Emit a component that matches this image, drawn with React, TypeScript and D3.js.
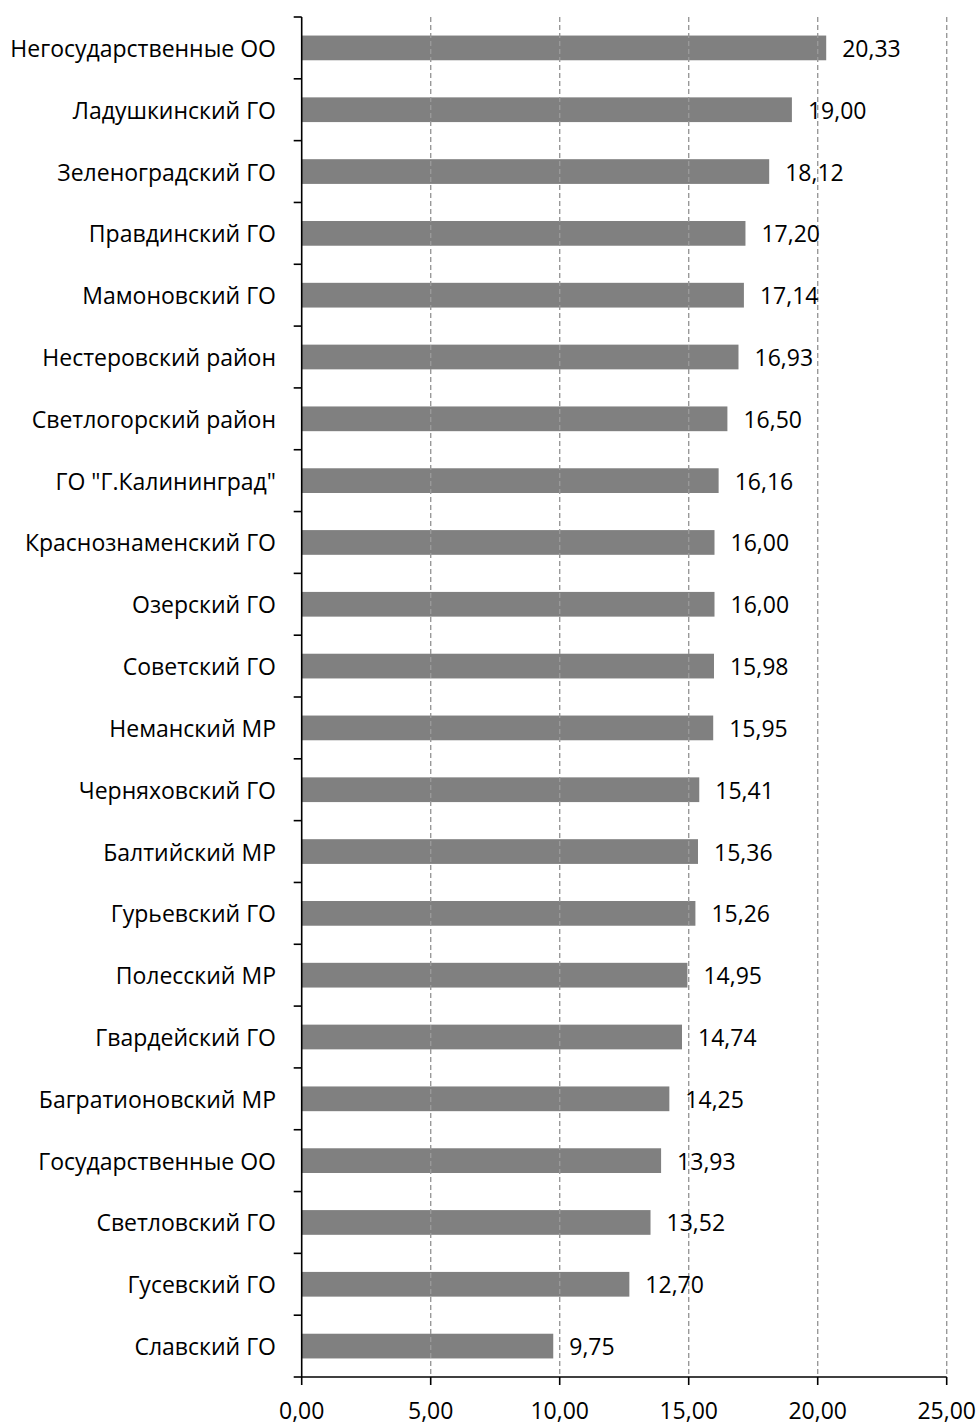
import React from "react";
import * as d3 from "d3";

const categories = [
  "Негосударственные ОО",
  "Ладушкинский ГО",
  "Зеленоградский ГО",
  "Правдинский ГО",
  "Мамоновский ГО",
  "Нестеровский район",
  "Светлогорский район",
  "ГО \"Г.Калининград\"",
  "Краснознаменский ГО",
  "Озерский ГО",
  "Советский ГО",
  "Неманский МР",
  "Черняховский ГО",
  "Балтийский МР",
  "Гурьевский ГО",
  "Полесский МР",
  "Гвардейский ГО",
  "Багратионовский МР",
  "Государственные ОО",
  "Светловский ГО",
  "Гусевский ГО",
  "Славский ГО",
];

const values = [
  20.33, 19.0, 18.12, 17.2, 17.14, 16.93, 16.5, 16.16, 16.0, 16.0, 15.98,
  15.95, 15.41, 15.36, 15.26, 14.95, 14.74, 14.25, 13.93, 13.52, 12.7, 9.75,
];

const xTicks = [0, 5, 10, 15, 20, 25];

const W = 979;
const H = 1426;
const left = 301.7;
const right = 946.7;
const top = 17;
const bottom = 1377;
const FONT = "'Open Sans', sans-serif";
const FS = 23;

const fmt = (v: number) => v.toFixed(2).replace(".", ",");

export default function App() {
  const x = d3.scaleLinear().domain([0, 25]).range([left, right]);
  const y = d3
    .scaleBand<string>()
    .domain(categories)
    .range([top, bottom])
    .paddingInner(0.6)
    .paddingOuter(0.3);
  const boundaries = d3
    .range(categories.length + 1)
    .map((i) => top + i * ((bottom - top) / categories.length));

  return (
    <svg
      width={W}
      height={H}
      style={{ position: "absolute", left: 0, top: 0, background: "#fff" }}
      fontFamily={FONT}
    >
      {categories.map((c, i) => (
        <rect
          key={c}
          x={x(0)}
          y={y(c)!}
          width={x(values[i]) - x(0)}
          height={y.bandwidth()}
          fill="#808080"
        />
      ))}
      {xTicks.slice(1).map((t) => (
        <line
          key={t}
          x1={x(t)}
          x2={x(t)}
          y1={top}
          y2={bottom}
          stroke="#999"
          strokeWidth={1.4}
          strokeDasharray="5,3"
        />
      ))}
      <line x1={left} x2={left} y1={top} y2={bottom} stroke="#000" strokeWidth={1.6} />
      {boundaries.map((b, i) => (
        <line key={i} x1={left - 8} x2={left} y1={b} y2={b} stroke="#000" strokeWidth={1.6} />
      ))}
      <line x1={left} x2={right} y1={bottom} y2={bottom} stroke="#000" strokeWidth={1.6} />
      {xTicks.map((t) => (
        <g key={t}>
          <line x1={x(t)} x2={x(t)} y1={bottom} y2={bottom + 8} stroke="#000" strokeWidth={1.6} />
          <text
            x={x(t)}
            y={bottom + 42}
            textAnchor="middle"
            fontSize={FS}
            fill="#000"
          >
            {fmt(t)}
          </text>
        </g>
      ))}
      {categories.map((c, i) => (
        <g key={c}>
          <text
            x={276}
            y={y(c)! + y.bandwidth() / 2}
            textAnchor="end"
            dominantBaseline="central"
            fontSize={FS}
            fill="#000"
          >
            {c}
          </text>
          <text
            x={x(values[i]) + 16}
            y={y(c)! + y.bandwidth() / 2}
            dominantBaseline="central"
            fontSize={FS}
            fill="#000"
          >
            {fmt(values[i])}
          </text>
        </g>
      ))}
    </svg>
  );
}
